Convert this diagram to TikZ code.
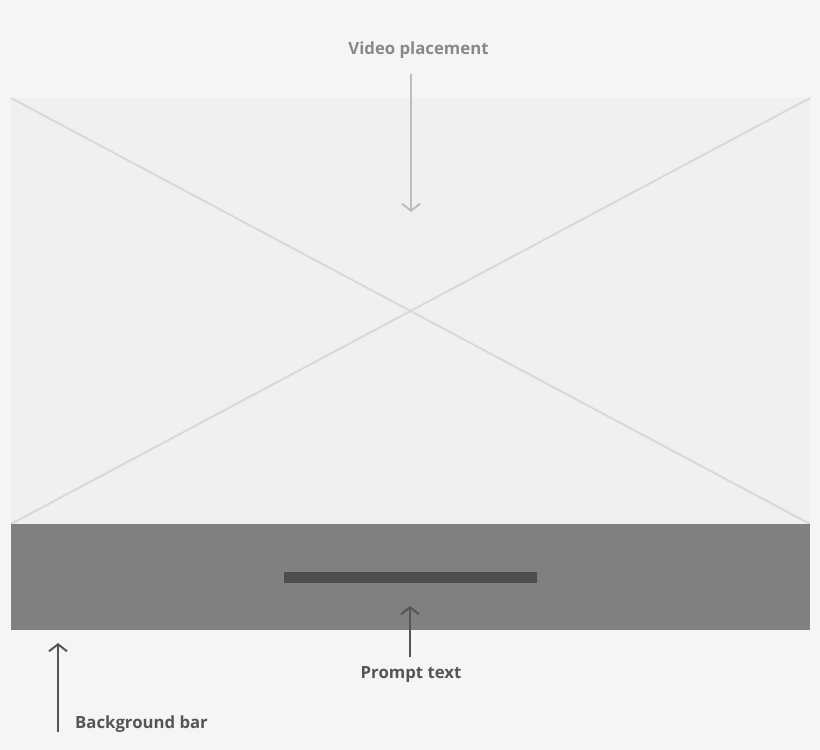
\documentclass[tikz,border=0pt]{standalone}
\usepackage{fontspec}
\setmainfont{Open Sans}
\usetikzlibrary{arrows.meta}
\usetikzlibrary{positioning}
\definecolor{pagebg}{HTML}{F5F5F5}
\definecolor{videobg}{HTML}{F0F0F0}
\definecolor{crossline}{HTML}{D9D9D9}
\definecolor{barbg}{HTML}{808080}
\definecolor{promptbar}{HTML}{4D4D4D}
\definecolor{lightarrow}{HTML}{BDBDBD}
\definecolor{lighttext}{HTML}{888888}
\definecolor{darkarrow}{HTML}{555555}

\begin{document}
\begin{tikzpicture}
	[x=1bp, y=-1bp,
	> = {Straight Barb[length=7bp, width=18bp, line width=2bp]},
	label/.style = {font=\fontsize{16.8}{19}\selectfont\bfseries, inner sep=0pt},
	pointer/.style = {->, line width=2.2bp}
	]
	\fill[pagebg] (0,0) rectangle (820,750);
	\useasboundingbox (0,0) rectangle (820,750);

	\coordinate (vtl) at (11,98);
	\coordinate (vtr) at (810,98);
	\coordinate (vbl) at (11,524);
	\coordinate (vbr) at (810,524);
	\coordinate (bbl) at (11,630);
	\coordinate (bbr) at (810,630);

	% video area and cross
	\fill[videobg] (vtl) rectangle (vbr);
	\draw[crossline, line width=2bp] (vtl) -- (vbr);
	\draw[crossline, line width=2bp] (vtr) -- (vbl);

	% bar with prompt line
	\fill[barbg] (vbl) rectangle (bbr);
	\fill[promptbar] (284,572) rectangle (537,583);

	\node[label, text=lighttext] (video) at (418.5,50) {Video placement};
	\node[label, text=darkarrow] (prompt) at (411,675) {Prompt text};
	\node[label, text=darkarrow, anchor=west] (bgbar) at (75,724) {Background bar};

	\coordinate (va) at (411,74);
	\coordinate (vb) at (411,212);
	\coordinate (pa) at (410,657);
	\coordinate (pb) at (410,606);
	\coordinate (ba) at (58,732);
	\coordinate (bb) at (58,643);

	\draw[pointer, lightarrow] (va) -- (vb);
	\draw[pointer, darkarrow] (pa) -- (pb);
	\draw[pointer, darkarrow] (ba) -- (bb);
\end{tikzpicture}
\end{document}
